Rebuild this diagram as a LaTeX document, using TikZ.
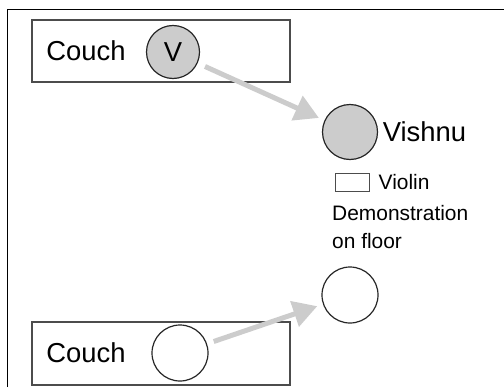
\documentclass[tikz,border=0pt]{standalone}
\usepackage{fontspec}
\setmainfont{Liberation Sans}
\usetikzlibrary{shapes,arrows.meta,calc,positioning,fit}

\begin{document}
\begin{tikzpicture}[x=1bp, y=1bp, arrow/.style = {line width=5bp, draw=gray!40, -{Triangle[length=24bp,width=26bp]}}]
		\tikzset{seat/.style={circle,inner sep=0pt,draw=black!85,line width=1.2bp,minimum size=56bp,text centered}}
		\tikzset{big/.style={inner sep=0pt,font=\fontsize{27.5}{30}\selectfont}}
		\tikzset{small/.style={inner sep=0pt,font=\fontsize{21}{28}\selectfont}}

		\useasboundingbox (0,0) rectangle (504,387);

		% Frame
		\draw[line width=1.5bp] (7.5,0) -- (7.5,377.5) -- (504,377.5);

		% Couches
		\node[fit={(32,305) (290,367)}, inner sep=0pt, draw=black!70, line width=1.2bp] (couchtop) {};

		\node[fit={(32,2) (290,65)}, inner sep=0pt, draw=black!70, line width=1.2bp] (couchbottom) {};

		\node[big] (couchtoplbl) at (86,336) {Couch};

		\node[big] (couchbottomlbl) at (86,34) {Couch};

		% Seats
		\node[seat, fill=gray!40, minimum size=53bp, big] (v) at (173,335) {V};

		\node[seat, fill=gray!40, minimum size=55bp] (vishnu) at (350,255) {};

		\node[seat] (floorseat) at (350,92) {};

		\node[seat] (couchseat) at (180,34) {};

		% Labels
		\node[big, right=4.5bp of vishnu] (vishnulbl) {Vishnu};

		\node[draw=black!70, line width=1bp, minimum width=34bp, minimum height=18bp, inner sep=0pt] (violin) at (352,205) {};

		\node[small, right=9bp of violin] (violinlbl) {Violin};

		\node[small, align=left, anchor=north west] (demo) at (332,182) {Demonstration\\on floor};

		% Arrows
		\draw [arrow, shorten <=8bp, shorten >=6bp] (v) -- (vishnu);
		\draw [arrow, shorten <=7bp, shorten >=6bp] (couchseat) -- (floorseat);

	\end{tikzpicture}
\end{document}
